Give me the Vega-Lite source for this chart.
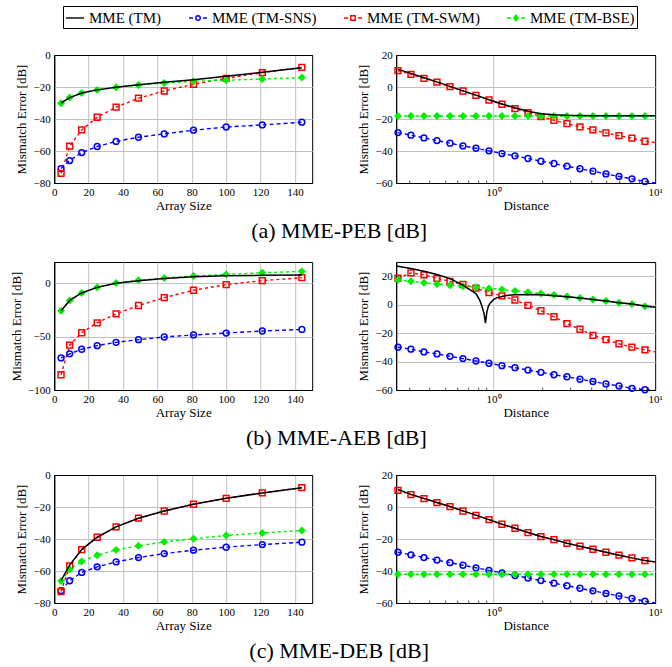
{
"$schema": "https://vega.github.io/schema/vega-lite/v6.json",
"padding": {"left": 9, "top": 5, "right": 5, "bottom": 5},
"config": {
 "font": "Liberation Serif",
 "view": {"stroke": "black", "strokeWidth": 1},
 "axis": {"labelFont": "Liberation Serif", "labelFontSize": 11, "labelColor": "black", "titleFont": "Liberation Serif", "titleFontSize": 13, "titleFontWeight": "normal", "titleColor": "black", "domainColor": "black", "domainWidth": 1, "gridColor": "#c0c0c0", "gridWidth": 1, "ticks": false, "labelPadding": 3, "labelFlush": false, "labelOverlap": false},
 "axisY": {"titlePadding": 4, "labelPadding": 4},
 "axisX": {"titlePadding": 2},
 "title": {"font": "Liberation Serif", "fontSize": 22, "fontWeight": "normal", "color": "black"},
 "legend": {"labelFont": "Liberation Serif", "labelFontSize": 15, "labelColor": "black", "symbolSize": 324, "symbolStrokeWidth": 1.4, "strokeColor": "black", "padding": 2, "columnPadding": 24, "labelOffset": 4, "labelLimit": 400}
},
"spacing": 19,
"center": true,
"vconcat": [
 {"hconcat": [
  {"width": 258, "height": 128,
   "data": {"values": [
    {"x":4,"TM":-30,"TM-SNS":-71,"TM-SWM":-74,"TM-BSE":-30.1},
    {"x":9,"TM":-26.6,"TM-SNS":-66,"TM-SWM":-57,"TM-BSE":-26.6},
    {"x":16,"TM":-23.8,"TM-SNS":-61,"TM-SWM":-46.8,"TM-BSE":-23.7},
    {"x":25,"TM":-21.8,"TM-SNS":-57.2,"TM-SWM":-38.9,"TM-BSE":-21.8},
    {"x":36,"TM":-20.1,"TM-SNS":-54,"TM-SWM":-32.6,"TM-BSE":-20.2},
    {"x":49,"TM":-18.6,"TM-SNS":-51.4,"TM-SWM":-27,"TM-BSE":-18.7},
    {"x":64,"TM":-17.1,"TM-SNS":-49.3,"TM-SWM":-22.5,"TM-BSE":-17.5},
    {"x":81,"TM":-15.4,"TM-SNS":-47,"TM-SWM":-18.3,"TM-BSE":-16.4},
    {"x":100,"TM":-13.3,"TM-SNS":-45,"TM-SWM":-14.6,"TM-BSE":-15.8},
    {"x":121,"TM":-10.8,"TM-SNS":-43.7,"TM-SWM":-11,"TM-BSE":-15},
    {"x":144,"TM":-8,"TM-SNS":-42,"TM-SWM":-7.7,"TM-BSE":-14.1}
   ]},
   "transform": [{"fold": ["TM","TM-SNS","TM-SWM","TM-BSE"], "as": ["s","y"]}, {"filter": "isValid(datum.y)"}],
   "encoding": {
    "x": {"field":"x","type":"quantitative","scale":{"domain":[0,150],"nice":false},"axis":{"title":"Array Size","values":[0,20,40,60,80,100,120,140],"gridColor":{"condition":{"test":"datum.value === 0","value":"black"},"value":"#c0c0c0"}}},
    "y": {"field":"y","type":"quantitative","scale":{"domain":[-80,0],"nice":false},"axis":{"title":"Mismatch Error [dB]","values":[-80,-60,-40,-20,0],"gridColor":{"condition":{"test":"datum.value === 0 || datum.value === -80","value":"black"},"value":"#c0c0c0"}}},
    "color": {"field":"s","type":"nominal","scale":{"domain":["TM","TM-SNS","TM-SWM","TM-BSE"],"range":["#000000","#0000ff","#ff0000","#00ee00"]},
     "legend": {"orient":"none","legendX":9,"legendY":-49,"direction":"horizontal","columns":4,"title":null,"labelFont":"Liberation Serif","labelExpr":"'MME (' + datum.label + ')'",
      "encode": {"symbols": {"update": {
       "shape": {"signal": "datum.value === 'TM' ? 'M-1,0H1' : datum.value === 'TM-SNS' ? 'M-1,0H-0.55M-0.25,0A0.25,0.25 0 1,1 0.25,0A0.25,0.25 0 1,1 -0.25,0M0.55,0H1' : datum.value === 'TM-SWM' ? 'M-1,0H-0.55M-0.25,-0.25H0.25V0.25H-0.25ZM0.55,0H1' : 'M-1,0H-0.55M0,-0.32L0.25,0L0,0.32L-0.25,0ZM0.55,0H1'"},
       "fill": {"signal": "datum.value === 'TM-BSE' ? '#00ee00' : 'transparent'"},
       "strokeWidth": {"value": 1.4},
       "opacity": {"value": 1}
      }}}}}
   },
   "layer": [
    {"transform":[{"filter":"datum.s !== 'TM'"}],"mark":{"type":"line","clip":true,"strokeWidth":1.4},"encoding":{"strokeDash":{"field":"s","type":"nominal","scale":{"domain":["TM-SNS","TM-SWM","TM-BSE"],"range":[[4,3],[3,3],[3,3]]},"legend":null}}},
    {"transform":[{"filter":"datum.s !== 'TM' && datum.x !== 10"}],"mark":{"type":"point","filled":false,"opacity":1,"strokeWidth":1.5,"size":34},"encoding":{"shape":{"field":"s","type":"nominal","scale":{"domain":["TM-SNS","TM-SWM","TM-BSE"],"range":["circle","square","diamond"]},"legend":null},"fill":{"field":"s","type":"nominal","scale":{"domain":["TM-SNS","TM-SWM","TM-BSE"],"range":["transparent","transparent","#00ee00"]},"legend":null}}},
    {"transform":[{"filter":"datum.s === 'TM'"}],"mark":{"type":"line","clip":true,"strokeWidth":1.5}}
   ]
  },
  {"width": 259, "height": 128,
   "data": {"values": [
    {"x":0.2564,"TM":11,"TM-SNS":-28.5,"TM-SWM":10.2,"TM-BSE":-18.1},
    {"x":0.3085,"TM":8.5,"TM-SNS":-30.1,"TM-SWM":7.9,"TM-BSE":-18.1},
    {"x":0.3713,"TM":5.8,"TM-SNS":-31.8,"TM-SWM":5.4,"TM-BSE":-18.1},
    {"x":0.4469,"TM":3.2,"TM-SNS":-33.5,"TM-SWM":3.1,"TM-BSE":-18.1},
    {"x":0.5378,"TM":0.4,"TM-SNS":-35.1,"TM-SWM":0.2,"TM-BSE":-18.1},
    {"x":0.6471,"TM":-2.4,"TM-SNS":-36.8,"TM-SWM":-2.5,"TM-BSE":-18.1},
    {"x":0.7787,"TM":-5.1,"TM-SNS":-38.3,"TM-SWM":-5.2,"TM-BSE":-18.1},
    {"x":0.9371,"TM":-8,"TM-SNS":-39.9,"TM-SWM":-8.1,"TM-BSE":-18.1},
    {"x":1.1276,"TM":-10.6,"TM-SNS":-41.6,"TM-SWM":-10.8,"TM-BSE":-18.1},
    {"x":1.357,"TM":-13,"TM-SNS":-43,"TM-SWM":-13.5,"TM-BSE":-18.1},
    {"x":1.6331,"TM":-15.2,"TM-SNS":-44.7,"TM-SWM":-16,"TM-BSE":-18.1},
    {"x":1.9652,"TM":-16.7,"TM-SNS":-46.4,"TM-SWM":-18.5,"TM-BSE":-18.1},
    {"x":2.365,"TM":-17.4,"TM-SNS":-47.8,"TM-SWM":-20.8,"TM-BSE":-18.1},
    {"x":2.846,"TM":-17.7,"TM-SNS":-49.5,"TM-SWM":-22.9,"TM-BSE":-18.1},
    {"x":3.4249,"TM":-17.8,"TM-SNS":-51.1,"TM-SWM":-24.9,"TM-BSE":-18.1},
    {"x":4.121,"TM":-17.9,"TM-SNS":-52.6,"TM-SWM":-26.8,"TM-BSE":-18.1},
    {"x":4.9602,"TM":-17.9,"TM-SNS":-54.3,"TM-SWM":-28.7,"TM-BSE":-18.1},
    {"x":5.9689,"TM":-18,"TM-SNS":-55.9,"TM-SWM":-30.4,"TM-BSE":-18.1},
    {"x":7.1828,"TM":-18,"TM-SNS":-57.4,"TM-SWM":-32,"TM-BSE":-18.1},
    {"x":8.6439,"TM":-18,"TM-SNS":-59,"TM-SWM":-33.9,"TM-BSE":-18.1},
    {"x":10,"TM":-18,"TM-SNS":-60,"TM-SWM":-34.7,"TM-BSE":-18.1}
   ]},
   "transform": [{"fold": ["TM","TM-SNS","TM-SWM","TM-BSE"], "as": ["s","y"]}, {"filter": "isValid(datum.y)"}],
   "encoding": {
    "x": {"field":"x","type":"quantitative","scale":{"type":"log","domain":[0.25,10],"nice":false},"axis":{"title":"Distance","values":[0.3,0.4,0.5,0.6,0.7,0.8,0.9,1,2,3,4,5,6,7,8,9,10],"labelExpr":"datum.value === 1 ? '10⁰' : datum.value === 10 ? '10¹' : ''","gridColor":{"condition":{"test":"datum.value === 1","value":"#c0c0c0"},"value":"transparent"},"ticks":true,"tickSize":-3,"tickColor":{"condition":{"test":"datum.value === 1 || datum.value === 10","value":"transparent"},"value":"#555555"},"labelPadding":6}},
    "y": {"field":"y","type":"quantitative","scale":{"domain":[-60,20],"nice":false},"axis":{"title":"Mismatch Error [dB]","values":[-60,-40,-20,0,20],"gridColor":{"condition":{"test":"datum.value === 20 || datum.value === -60","value":"black"},"value":"#c0c0c0"}}},
    "color": {"field":"s","type":"nominal","scale":{"domain":["TM","TM-SNS","TM-SWM","TM-BSE"],"range":["#000000","#0000ff","#ff0000","#00ee00"]},"legend":null}
   },
   "layer": [
    {"transform":[{"filter":"datum.s !== 'TM'"}],"mark":{"type":"line","clip":true,"strokeWidth":1.4},"encoding":{"strokeDash":{"field":"s","type":"nominal","scale":{"domain":["TM-SNS","TM-SWM","TM-BSE"],"range":[[4,3],[3,3],[3,3]]},"legend":null}}},
    {"transform":[{"filter":"datum.s !== 'TM' && datum.x !== 10"}],"mark":{"type":"point","filled":false,"opacity":1,"strokeWidth":1.5,"size":34},"encoding":{"shape":{"field":"s","type":"nominal","scale":{"domain":["TM-SNS","TM-SWM","TM-BSE"],"range":["circle","square","diamond"]},"legend":null},"fill":{"field":"s","type":"nominal","scale":{"domain":["TM-SNS","TM-SWM","TM-BSE"],"range":["transparent","transparent","#00ee00"]},"legend":null}}},
    {"transform":[{"filter":"datum.s === 'TM'"}],"mark":{"type":"line","clip":true,"strokeWidth":1.5}}
   ]
  }
 ], "spacing": 44, "title": {"text": "(a) MME-PEB [dB]", "orient": "bottom", "anchor": "middle", "offset": 8}},
 {"hconcat": [
  {"width": 258, "height": 128,
   "data": {"values": [
    {"x":4,"TM":-25.8,"TM-SNS":-69.9,"TM-SWM":-85.7,"TM-BSE":-25.8},
    {"x":9,"TM":-16,"TM-SNS":-66.1,"TM-SWM":-58,"TM-BSE":-16.1},
    {"x":16,"TM":-9,"TM-SNS":-61.8,"TM-SWM":-46.3,"TM-BSE":-9},
    {"x":25,"TM":-3.8,"TM-SNS":-58.4,"TM-SWM":-37,"TM-BSE":-3.7},
    {"x":36,"TM":0,"TM-SNS":-55.3,"TM-SWM":-28.6,"TM-BSE":0.3},
    {"x":49,"TM":2.5,"TM-SNS":-52.8,"TM-SWM":-20.8,"TM-BSE":2.8},
    {"x":64,"TM":4.5,"TM-SNS":-50.3,"TM-SWM":-13.4,"TM-BSE":5},
    {"x":81,"TM":6.2,"TM-SNS":-48.4,"TM-SWM":-6.5,"TM-BSE":6.8},
    {"x":100,"TM":7.1,"TM-SNS":-46.6,"TM-SWM":-1.2,"TM-BSE":8.4},
    {"x":121,"TM":7.5,"TM-SNS":-44.7,"TM-SWM":2.5,"TM-BSE":9.9},
    {"x":144,"TM":7.8,"TM-SNS":-43.2,"TM-SWM":5.3,"TM-BSE":11.2}
   ]},
   "transform": [{"fold": ["TM","TM-SNS","TM-SWM","TM-BSE"], "as": ["s","y"]}, {"filter": "isValid(datum.y)"}],
   "encoding": {
    "x": {"field":"x","type":"quantitative","scale":{"domain":[0,150],"nice":false},"axis":{"title":"Array Size","values":[0,20,40,60,80,100,120,140],"gridColor":{"condition":{"test":"datum.value === 0","value":"black"},"value":"#c0c0c0"}}},
    "y": {"field":"y","type":"quantitative","scale":{"domain":[-100,20],"nice":false},"axis":{"title":"Mismatch Error [dB]","values":[-100,-50,0],"gridColor":{"condition":{"test":"datum.value === -100","value":"black"},"value":"#c0c0c0"}}},
    "color": {"field":"s","type":"nominal","scale":{"domain":["TM","TM-SNS","TM-SWM","TM-BSE"],"range":["#000000","#0000ff","#ff0000","#00ee00"]},"legend":null}
   },
   "layer": [
    {"transform":[{"filter":"datum.s !== 'TM'"}],"mark":{"type":"line","clip":true,"strokeWidth":1.4},"encoding":{"strokeDash":{"field":"s","type":"nominal","scale":{"domain":["TM-SNS","TM-SWM","TM-BSE"],"range":[[4,3],[3,3],[3,3]]},"legend":null}}},
    {"transform":[{"filter":"datum.s !== 'TM' && datum.x !== 10"}],"mark":{"type":"point","filled":false,"opacity":1,"strokeWidth":1.5,"size":34},"encoding":{"shape":{"field":"s","type":"nominal","scale":{"domain":["TM-SNS","TM-SWM","TM-BSE"],"range":["circle","square","diamond"]},"legend":null},"fill":{"field":"s","type":"nominal","scale":{"domain":["TM-SNS","TM-SWM","TM-BSE"],"range":["transparent","transparent","#00ee00"]},"legend":null}}},
    {"transform":[{"filter":"datum.s === 'TM'"}],"mark":{"type":"line","clip":true,"strokeWidth":1.5}}
   ]
  },
  {"width": 259, "height": 128,
   "data": {"values": [
    {"x":0.2564,"TM-SNS":-29.9,"TM-SWM":18.7,"TM-BSE":17.5},
    {"x":0.3085,"TM-SNS":-31.3,"TM-SWM":22.3,"TM-BSE":16.4},
    {"x":0.3713,"TM-SNS":-33.2,"TM-SWM":20.9,"TM-BSE":15.4},
    {"x":0.4469,"TM-SNS":-34.6,"TM-SWM":18.5,"TM-BSE":14.5},
    {"x":0.5378,"TM-SNS":-36.3,"TM-SWM":16.4,"TM-BSE":13.7},
    {"x":0.6471,"TM-SNS":-37.9,"TM-SWM":14.2,"TM-BSE":13},
    {"x":0.7787,"TM-SNS":-39.6,"TM-SWM":11.6,"TM-BSE":12.3},
    {"x":0.9371,"TM-SNS":-41.2,"TM-SWM":8.5,"TM-BSE":11.4},
    {"x":1.1276,"TM-SNS":-42.9,"TM-SWM":6.2,"TM-BSE":10.7},
    {"x":1.357,"TM-SNS":-44.3,"TM-SWM":3.3,"TM-BSE":9.7},
    {"x":1.6331,"TM-SNS":-46,"TM-SWM":-0.5,"TM-BSE":8.8},
    {"x":1.9652,"TM-SNS":-47.6,"TM-SWM":-4.3,"TM-BSE":7.8},
    {"x":2.365,"TM-SNS":-49.3,"TM-SWM":-8.5,"TM-BSE":6.9},
    {"x":2.846,"TM-SNS":-50.7,"TM-SWM":-13.3,"TM-BSE":5.7},
    {"x":3.4249,"TM-SNS":-52.4,"TM-SWM":-17.3,"TM-BSE":4.7},
    {"x":4.121,"TM-SNS":-54,"TM-SWM":-21.6,"TM-BSE":3.6},
    {"x":4.9602,"TM-SNS":-55.7,"TM-SWM":-24.6,"TM-BSE":2.6},
    {"x":5.9689,"TM-SNS":-57.1,"TM-SWM":-27.5,"TM-BSE":1.4},
    {"x":7.1828,"TM-SNS":-58.8,"TM-SWM":-29.9,"TM-BSE":0.5},
    {"x":8.6439,"TM-SNS":-59.8,"TM-SWM":-31.8,"TM-BSE":-1.2},
    {"x":10,"TM-SNS":-60.5,"TM-SWM":-33.2,"TM-BSE":-1.9},
    {"x":0.25,"TM":27.2},{"x":0.3085,"TM":25.5},{"x":0.3713,"TM":23.5},{"x":0.4469,"TM":21.2},
    {"x":0.5378,"TM":18.3},{"x":0.6471,"TM":13.8},{"x":0.7787,"TM":7.8},{"x":0.823,"TM":3},
    {"x":0.85,"TM":-1.5},{"x":0.875,"TM":-6.5},{"x":0.892,"TM":-13},{"x":0.91,"TM":-5},
    {"x":0.93,"TM":-1},{"x":0.955,"TM":1.2},{"x":1.0,"TM":3.5},{"x":1.044,"TM":4.8},
    {"x":1.204,"TM":6.5},{"x":1.357,"TM":7},{"x":1.633,"TM":7.1},{"x":1.965,"TM":6.9},
    {"x":2.365,"TM":6.3},{"x":2.846,"TM":5.6},{"x":3.425,"TM":4.7},{"x":4.121,"TM":3.6},
    {"x":4.96,"TM":2.6},{"x":5.969,"TM":1.4},{"x":7.183,"TM":0.4},{"x":8.644,"TM":-1},{"x":10,"TM":-1.9}
   ]},
   "transform": [{"fold": ["TM","TM-SNS","TM-SWM","TM-BSE"], "as": ["s","y"]}, {"filter": "isValid(datum.y)"}],
   "encoding": {
    "x": {"field":"x","type":"quantitative","scale":{"type":"log","domain":[0.25,10],"nice":false},"axis":{"title":"Distance","values":[0.3,0.4,0.5,0.6,0.7,0.8,0.9,1,2,3,4,5,6,7,8,9,10],"labelExpr":"datum.value === 1 ? '10⁰' : datum.value === 10 ? '10¹' : ''","gridColor":{"condition":{"test":"datum.value === 1","value":"#c0c0c0"},"value":"transparent"},"ticks":true,"tickSize":-3,"tickColor":{"condition":{"test":"datum.value === 1 || datum.value === 10","value":"transparent"},"value":"#555555"},"labelPadding":6}},
    "y": {"field":"y","type":"quantitative","scale":{"domain":[-60,30],"nice":false},"axis":{"title":"Mismatch Error [dB]","values":[-60,-40,-20,0,20],"gridColor":{"condition":{"test":"datum.value === -60","value":"black"},"value":"#c0c0c0"}}},
    "color": {"field":"s","type":"nominal","scale":{"domain":["TM","TM-SNS","TM-SWM","TM-BSE"],"range":["#000000","#0000ff","#ff0000","#00ee00"]},"legend":null}
   },
   "layer": [
    {"transform":[{"filter":"datum.s !== 'TM'"}],"mark":{"type":"line","clip":true,"strokeWidth":1.4},"encoding":{"strokeDash":{"field":"s","type":"nominal","scale":{"domain":["TM-SNS","TM-SWM","TM-BSE"],"range":[[4,3],[3,3],[3,3]]},"legend":null}}},
    {"transform":[{"filter":"datum.s !== 'TM' && datum.x !== 10"}],"mark":{"type":"point","filled":false,"opacity":1,"strokeWidth":1.5,"size":34},"encoding":{"shape":{"field":"s","type":"nominal","scale":{"domain":["TM-SNS","TM-SWM","TM-BSE"],"range":["circle","square","diamond"]},"legend":null},"fill":{"field":"s","type":"nominal","scale":{"domain":["TM-SNS","TM-SWM","TM-BSE"],"range":["transparent","transparent","#00ee00"]},"legend":null}}},
    {"transform":[{"filter":"datum.s === 'TM'"}],"mark":{"type":"line","clip":true,"strokeWidth":1.5}}
   ]
  }
 ], "spacing": 44, "title": {"text": "(b) MME-AEB [dB]", "orient": "bottom", "anchor": "middle", "offset": 8}},
 {"hconcat": [
  {"width": 258, "height": 128,
   "data": {"values": [
    {"x":4,"TM":-66,"TM-SNS":-72.3,"TM-SWM":-72.8,"TM-BSE":-66.3},
    {"x":9,"TM":-56.3,"TM-SNS":-66.1,"TM-SWM":-56.8,"TM-BSE":-59},
    {"x":16,"TM":-46.6,"TM-SNS":-60.9,"TM-SWM":-46.6,"TM-BSE":-54},
    {"x":25,"TM":-38.9,"TM-SNS":-57.4,"TM-SWM":-38.9,"TM-BSE":-50.1},
    {"x":36,"TM":-32.4,"TM-SNS":-54.3,"TM-SWM":-32.4,"TM-BSE":-46.8},
    {"x":49,"TM":-27,"TM-SNS":-51.6,"TM-SWM":-27,"TM-BSE":-44.3},
    {"x":64,"TM":-22.5,"TM-SNS":-49.1,"TM-SWM":-22.5,"TM-BSE":-41.8},
    {"x":81,"TM":-18.3,"TM-SNS":-47,"TM-SWM":-18.3,"TM-BSE":-39.9},
    {"x":100,"TM":-14.6,"TM-SNS":-45.1,"TM-SWM":-14.6,"TM-BSE":-37.8},
    {"x":121,"TM":-11.2,"TM-SNS":-43.5,"TM-SWM":-11.2,"TM-BSE":-36.2},
    {"x":144,"TM":-7.9,"TM-SNS":-42,"TM-SWM":-7.9,"TM-BSE":-34.7}
   ]},
   "transform": [{"fold": ["TM","TM-SNS","TM-SWM","TM-BSE"], "as": ["s","y"]}, {"filter": "isValid(datum.y)"}],
   "encoding": {
    "x": {"field":"x","type":"quantitative","scale":{"domain":[0,150],"nice":false},"axis":{"title":"Array Size","values":[0,20,40,60,80,100,120,140],"gridColor":{"condition":{"test":"datum.value === 0","value":"black"},"value":"#c0c0c0"}}},
    "y": {"field":"y","type":"quantitative","scale":{"domain":[-80,0],"nice":false},"axis":{"title":"Mismatch Error [dB]","values":[-80,-60,-40,-20,0],"gridColor":{"condition":{"test":"datum.value === 0 || datum.value === -80","value":"black"},"value":"#c0c0c0"}}},
    "color": {"field":"s","type":"nominal","scale":{"domain":["TM","TM-SNS","TM-SWM","TM-BSE"],"range":["#000000","#0000ff","#ff0000","#00ee00"]},"legend":null}
   },
   "layer": [
    {"transform":[{"filter":"datum.s !== 'TM'"}],"mark":{"type":"line","clip":true,"strokeWidth":1.4},"encoding":{"strokeDash":{"field":"s","type":"nominal","scale":{"domain":["TM-SNS","TM-SWM","TM-BSE"],"range":[[4,3],[3,3],[3,3]]},"legend":null}}},
    {"transform":[{"filter":"datum.s !== 'TM' && datum.x !== 10"}],"mark":{"type":"point","filled":false,"opacity":1,"strokeWidth":1.5,"size":34},"encoding":{"shape":{"field":"s","type":"nominal","scale":{"domain":["TM-SNS","TM-SWM","TM-BSE"],"range":["circle","square","diamond"]},"legend":null},"fill":{"field":"s","type":"nominal","scale":{"domain":["TM-SNS","TM-SWM","TM-BSE"],"range":["transparent","transparent","#00ee00"]},"legend":null}}},
    {"transform":[{"filter":"datum.s === 'TM'"}],"mark":{"type":"line","clip":true,"strokeWidth":1.5}}
   ]
  },
  {"width": 259, "height": 128,
   "data": {"values": [
    {"x":0.2564,"TM":11,"TM-SNS":-28.3,"TM-SWM":10.4,"TM-BSE":-42},
    {"x":0.3085,"TM":7.9,"TM-SNS":-29.9,"TM-SWM":7.7,"TM-BSE":-42},
    {"x":0.3713,"TM":5.3,"TM-SNS":-31.6,"TM-SWM":5.2,"TM-BSE":-42},
    {"x":0.4469,"TM":2.8,"TM-SNS":-33.2,"TM-SWM":2.7,"TM-BSE":-42},
    {"x":0.5378,"TM":0.3,"TM-SNS":-34.8,"TM-SWM":0.2,"TM-BSE":-42},
    {"x":0.6471,"TM":-2.4,"TM-SNS":-36.4,"TM-SWM":-2.5,"TM-BSE":-42},
    {"x":0.7787,"TM":-5.1,"TM-SNS":-38,"TM-SWM":-5.2,"TM-BSE":-42},
    {"x":0.9371,"TM":-7.9,"TM-SNS":-39.6,"TM-SWM":-7.9,"TM-BSE":-42},
    {"x":1.1276,"TM":-10.7,"TM-SNS":-41.2,"TM-SWM":-10.8,"TM-BSE":-42},
    {"x":1.357,"TM":-13.3,"TM-SNS":-42.8,"TM-SWM":-13.3,"TM-BSE":-42},
    {"x":1.6331,"TM":-15.9,"TM-SNS":-44.4,"TM-SWM":-16,"TM-BSE":-42},
    {"x":1.9652,"TM":-18.4,"TM-SNS":-46,"TM-SWM":-18.5,"TM-BSE":-42},
    {"x":2.365,"TM":-20.4,"TM-SNS":-47.6,"TM-SWM":-20.4,"TM-BSE":-42},
    {"x":2.846,"TM":-22.6,"TM-SNS":-49.2,"TM-SWM":-22.7,"TM-BSE":-42},
    {"x":3.4249,"TM":-24.5,"TM-SNS":-50.8,"TM-SWM":-24.5,"TM-BSE":-42},
    {"x":4.121,"TM":-26.4,"TM-SNS":-52.4,"TM-SWM":-26.4,"TM-BSE":-42},
    {"x":4.9602,"TM":-28.3,"TM-SNS":-54,"TM-SWM":-28.3,"TM-BSE":-42},
    {"x":5.9689,"TM":-30.1,"TM-SNS":-55.6,"TM-SWM":-30.1,"TM-BSE":-42},
    {"x":7.1828,"TM":-31.8,"TM-SNS":-57.2,"TM-SWM":-31.8,"TM-BSE":-42},
    {"x":8.6439,"TM":-33.5,"TM-SNS":-58.8,"TM-SWM":-33.5,"TM-BSE":-42},
    {"x":10,"TM":-34.3,"TM-SNS":-60,"TM-SWM":-34.3,"TM-BSE":-42}
   ]},
   "transform": [{"fold": ["TM","TM-SNS","TM-SWM","TM-BSE"], "as": ["s","y"]}, {"filter": "isValid(datum.y)"}],
   "encoding": {
    "x": {"field":"x","type":"quantitative","scale":{"type":"log","domain":[0.25,10],"nice":false},"axis":{"title":"Distance","values":[0.3,0.4,0.5,0.6,0.7,0.8,0.9,1,2,3,4,5,6,7,8,9,10],"labelExpr":"datum.value === 1 ? '10⁰' : datum.value === 10 ? '10¹' : ''","gridColor":{"condition":{"test":"datum.value === 1","value":"#c0c0c0"},"value":"transparent"},"ticks":true,"tickSize":-3,"tickColor":{"condition":{"test":"datum.value === 1 || datum.value === 10","value":"transparent"},"value":"#555555"},"labelPadding":6}},
    "y": {"field":"y","type":"quantitative","scale":{"domain":[-60,20],"nice":false},"axis":{"title":"Mismatch Error [dB]","values":[-60,-40,-20,0,20],"gridColor":{"condition":{"test":"datum.value === 20 || datum.value === -60","value":"black"},"value":"#c0c0c0"}}},
    "color": {"field":"s","type":"nominal","scale":{"domain":["TM","TM-SNS","TM-SWM","TM-BSE"],"range":["#000000","#0000ff","#ff0000","#00ee00"]},"legend":null}
   },
   "layer": [
    {"transform":[{"filter":"datum.s !== 'TM'"}],"mark":{"type":"line","clip":true,"strokeWidth":1.4},"encoding":{"strokeDash":{"field":"s","type":"nominal","scale":{"domain":["TM-SNS","TM-SWM","TM-BSE"],"range":[[4,3],[3,3],[3,3]]},"legend":null}}},
    {"transform":[{"filter":"datum.s !== 'TM' && datum.x !== 10"}],"mark":{"type":"point","filled":false,"opacity":1,"strokeWidth":1.5,"size":34},"encoding":{"shape":{"field":"s","type":"nominal","scale":{"domain":["TM-SNS","TM-SWM","TM-BSE"],"range":["circle","square","diamond"]},"legend":null},"fill":{"field":"s","type":"nominal","scale":{"domain":["TM-SNS","TM-SWM","TM-BSE"],"range":["transparent","transparent","#00ee00"]},"legend":null}}},
    {"transform":[{"filter":"datum.s === 'TM'"}],"mark":{"type":"line","clip":true,"strokeWidth":1.5}}
   ]
  }
 ], "spacing": 44, "title": {"text": "(c) MME-DEB [dB]", "orient": "bottom", "anchor": "middle", "offset": 8}}
]
}
